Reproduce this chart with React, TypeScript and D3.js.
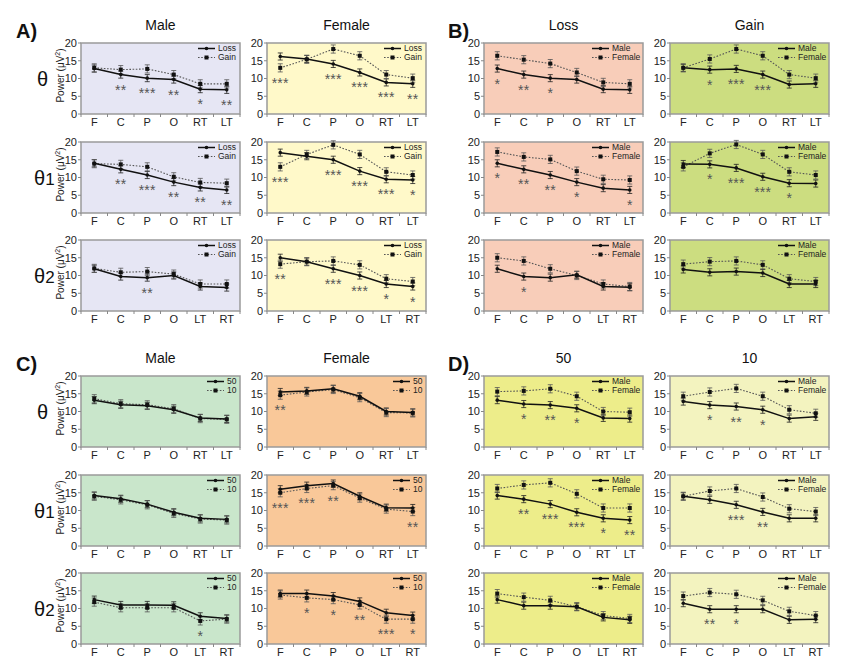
import React from "react";
import * as d3 from "d3";

const W = 847;
const H = 666;
const FONT = "Arial, 'Liberation Sans', Helvetica, sans-serif";

// categories / ticks
const CATS_A = ["F", "C", "P", "O", "RT", "LT"];
const CATS_B = ["F", "C", "P", "O", "LT", "RT"];
const Y_TICKS = [0, 5, 10, 15, 20];

// A) Loss (solid) vs Gain (dotted)
const aMaleT0 = [[12.8, 11.1, 10.1, 9.7, 7.0, 6.8], [13.0, 12.5, 12.7, 11.1, 8.5, 8.5]];
const aMaleT0Stars = ["", "**", "***", "**", "*", "**"];
const aFemT0 = [[16.2, 15.5, 14.1, 11.7, 8.9, 8.5], [13.0, 15.4, 18.3, 16.4, 11.1, 10.1]];
const aFemT0Stars = ["***", "", "***", "***", "***", "**"];
const aMaleT1 = [[14.0, 12.3, 10.7, 8.7, 7.2, 6.5], [13.9, 13.7, 13.0, 10.2, 8.6, 8.4]];
const aMaleT1Stars = ["", "**", "***", "**", "**", "**"];
const aFemT1 = [[17.0, 16.0, 15.0, 11.8, 9.5, 9.3], [13.0, 16.5, 19.2, 16.5, 11.6, 10.7]];
const aFemT1Stars = ["***", "", "***", "***", "***", "*"];
const aMaleT2 = [[11.9, 9.7, 9.4, 10.0, 6.9, 6.6], [12.0, 10.9, 11.1, 10.4, 7.6, 7.6]];
const aMaleT2Stars = ["", "", "**", "", "", ""];
const aFemT2 = [[15.0, 13.9, 11.9, 10.0, 7.6, 6.9], [13.2, 13.9, 14.1, 13.0, 9.1, 8.3]];
const aFemT2Stars = ["**", "", "***", "***", "*", "*"];

// B) Male (solid) vs Female (dotted)
const bLossT0 = [[12.8, 11.1, 10.1, 9.7, 7.0, 6.8], [16.4, 15.3, 14.2, 11.7, 8.9, 8.5]];
const bLossT0Stars = ["*", "**", "*", "", "", ""];
const bGainT0 = [[13.0, 12.5, 12.7, 11.1, 8.3, 8.5], [13.0, 15.5, 18.3, 16.4, 11.1, 10.1]];
const bGainT0Stars = ["", "*", "***", "***", "", ""];
const bLossT1 = [[14.0, 12.3, 10.7, 8.7, 7.0, 6.5], [17.2, 15.8, 15.1, 11.8, 9.5, 9.3]];
const bLossT1Stars = ["*", "**", "**", "*", "", "*"];
const bGainT1 = [[13.8, 13.7, 12.7, 10.2, 8.4, 8.3], [13.0, 16.8, 19.3, 16.5, 11.6, 10.7]];
const bGainT1Stars = ["", "*", "***", "***", "*", ""];
const bLossT2 = [[11.9, 9.7, 9.4, 10.2, 6.9, 6.7], [15.0, 14.1, 11.9, 10.0, 7.6, 6.9]];
const bLossT2Stars = ["", "*", "", "", "", ""];
const bGainT2 = [[11.7, 10.9, 11.1, 10.7, 7.6, 7.6], [13.2, 13.9, 14.1, 13.0, 9.1, 8.3]];
const bGainT2Stars = ["", "", "", "", "", ""];

// C) 50 (solid) vs 10 (dotted)
const cMaleT0 = [[13.2, 11.9, 11.6, 10.5, 8.2, 7.9], [13.6, 12.2, 11.9, 10.8, 8.0, 7.8]];
const cMaleT0Stars = ["", "", "", "", "", ""];
const cFemT0 = [[15.5, 15.8, 16.4, 14.3, 10.0, 9.7], [14.6, 15.5, 16.2, 13.9, 9.7, 9.6]];
const cFemT0Stars = ["**", "", "", "", "", ""];
const cMaleT1 = [[14.2, 13.3, 11.8, 9.5, 7.8, 7.5], [14.0, 13.0, 11.6, 9.2, 7.6, 7.3]];
const cMaleT1Stars = ["", "", "", "", "", ""];
const cFemT1 = [[16.0, 17.0, 17.6, 14.0, 10.8, 10.7], [15.0, 16.2, 17.0, 13.5, 10.4, 9.7]];
const cFemT1Stars = ["***", "***", "**", "", "", "**"];
const cMaleT2 = [[12.5, 11.0, 11.0, 10.9, 7.8, 7.2], [11.8, 10.2, 10.2, 10.2, 6.5, 7.0]];
const cMaleT2Stars = ["", "", "", "", "*", ""];
const cFemT2 = [[14.2, 14.2, 13.5, 12.0, 8.8, 8.0], [13.8, 13.0, 12.5, 11.0, 7.0, 7.0]];
const cFemT2Stars = ["", "*", "*", "**", "***", "*"];

// D) Male (solid) vs Female (dotted)
const d50T0 = [[13.2, 12.1, 11.8, 10.9, 8.2, 8.0], [15.6, 15.8, 16.4, 14.3, 10.0, 9.8]];
const d50T0Stars = ["", "*", "**", "*", "", ""];
const d10T0 = [[12.8, 11.8, 11.4, 10.5, 8.0, 8.5], [14.3, 15.5, 16.5, 14.3, 10.5, 9.5]];
const d10T0Stars = ["", "*", "**", "*", "", ""];
const d50T1 = [[14.2, 13.2, 11.8, 9.5, 7.8, 7.3], [16.2, 17.2, 17.8, 14.7, 10.7, 10.7]];
const d50T1Stars = ["", "**", "***", "***", "*", "**"];
const d10T1 = [[14.0, 13.0, 11.6, 9.6, 7.8, 7.8], [14.0, 15.5, 16.2, 13.8, 10.5, 9.7]];
const d10T1Stars = ["", "", "***", "**", "", ""];
const d50T2 = [[12.5, 10.8, 10.8, 10.5, 7.5, 6.8], [14.2, 13.2, 12.3, 10.5, 8.0, 7.2]];
const d50T2Stars = ["", "", "", "", "", ""];
const d10T2 = [[11.5, 9.8, 9.8, 9.8, 6.8, 7.0], [13.5, 14.5, 14.0, 12.3, 9.2, 8.0]];
const d10T2Stars = ["", "**", "*", "", "", ""];

const ERR = [1.0, 1.15]; // error bar half-length per series

// layout
const COL_X = [81, 267, 484, 670];
const PANEL_W = 159;
const PANEL_H = 71;
const ROW_Y = [43, 142, 240];
const HALF_DY = 333;

const BG = {
  aMale: "#E6E6F4",
  aFem: "#FFF9C9",
  bLoss: "#F8CDB9",
  bGain: "#CCDD80",
  cMale: "#C9E6CB",
  cFem: "#F9C899",
  d50: "#EDED8A",
  d10: "#F3F3BF",
};

interface PanelDef {
  col: number;
  row: number;
  half: number;
  data: number[][];
  stars: string[];
  bg: string;
  legend: string[];
  legendW: number;
}

const LEG_A = ["Loss", "Gain"];
const LEG_B = ["Male", "Female"];
const LEG_C = ["50", "10"];

const panels: PanelDef[] = [
  { col: 0, row: 0, half: 0, data: aMaleT0, stars: aMaleT0Stars, bg: BG.aMale, legend: LEG_A, legendW: 19 },
  { col: 1, row: 0, half: 0, data: aFemT0, stars: aFemT0Stars, bg: BG.aFem, legend: LEG_A, legendW: 19 },
  { col: 0, row: 1, half: 0, data: aMaleT1, stars: aMaleT1Stars, bg: BG.aMale, legend: LEG_A, legendW: 19 },
  { col: 1, row: 1, half: 0, data: aFemT1, stars: aFemT1Stars, bg: BG.aFem, legend: LEG_A, legendW: 19 },
  { col: 0, row: 2, half: 0, data: aMaleT2, stars: aMaleT2Stars, bg: BG.aMale, legend: LEG_A, legendW: 19 },
  { col: 1, row: 2, half: 0, data: aFemT2, stars: aFemT2Stars, bg: BG.aFem, legend: LEG_A, legendW: 19 },
  { col: 2, row: 0, half: 0, data: bLossT0, stars: bLossT0Stars, bg: BG.bLoss, legend: LEG_B, legendW: 28 },
  { col: 3, row: 0, half: 0, data: bGainT0, stars: bGainT0Stars, bg: BG.bGain, legend: LEG_B, legendW: 28 },
  { col: 2, row: 1, half: 0, data: bLossT1, stars: bLossT1Stars, bg: BG.bLoss, legend: LEG_B, legendW: 28 },
  { col: 3, row: 1, half: 0, data: bGainT1, stars: bGainT1Stars, bg: BG.bGain, legend: LEG_B, legendW: 28 },
  { col: 2, row: 2, half: 0, data: bLossT2, stars: bLossT2Stars, bg: BG.bLoss, legend: LEG_B, legendW: 28 },
  { col: 3, row: 2, half: 0, data: bGainT2, stars: bGainT2Stars, bg: BG.bGain, legend: LEG_B, legendW: 28 },
  { col: 0, row: 0, half: 1, data: cMaleT0, stars: cMaleT0Stars, bg: BG.cMale, legend: LEG_C, legendW: 10 },
  { col: 1, row: 0, half: 1, data: cFemT0, stars: cFemT0Stars, bg: BG.cFem, legend: LEG_C, legendW: 10 },
  { col: 0, row: 1, half: 1, data: cMaleT1, stars: cMaleT1Stars, bg: BG.cMale, legend: LEG_C, legendW: 10 },
  { col: 1, row: 1, half: 1, data: cFemT1, stars: cFemT1Stars, bg: BG.cFem, legend: LEG_C, legendW: 10 },
  { col: 0, row: 2, half: 1, data: cMaleT2, stars: cMaleT2Stars, bg: BG.cMale, legend: LEG_C, legendW: 10 },
  { col: 1, row: 2, half: 1, data: cFemT2, stars: cFemT2Stars, bg: BG.cFem, legend: LEG_C, legendW: 10 },
  { col: 2, row: 0, half: 1, data: d50T0, stars: d50T0Stars, bg: BG.d50, legend: LEG_B, legendW: 28 },
  { col: 3, row: 0, half: 1, data: d10T0, stars: d10T0Stars, bg: BG.d10, legend: LEG_B, legendW: 28 },
  { col: 2, row: 1, half: 1, data: d50T1, stars: d50T1Stars, bg: BG.d50, legend: LEG_B, legendW: 28 },
  { col: 3, row: 1, half: 1, data: d10T1, stars: d10T1Stars, bg: BG.d10, legend: LEG_B, legendW: 28 },
  { col: 2, row: 2, half: 1, data: d50T2, stars: d50T2Stars, bg: BG.d50, legend: LEG_B, legendW: 28 },
  { col: 3, row: 2, half: 1, data: d10T2, stars: d10T2Stars, bg: BG.d10, legend: LEG_B, legendW: 28 },
];

const COL_TITLES = [
  ["Male", "Female", "Loss", "Gain"],
  ["Male", "Female", "50", "10"],
];
const LETTERS = [["A)", "B)"], ["C)", "D)"]];
const GREEK_SUB = ["", "1", "2"];

function Marker({ x, y, kind }: { x: number; y: number; kind: number }) {
  if (kind === 0) return <circle cx={x} cy={y} r={1.8} fill="#111" />;
  return <rect x={x - 2} y={y - 2} width={4} height={4} fill="#111" />;
}

function Panel({ p }: { p: PanelDef }) {
  const x0 = COL_X[p.col];
  const y0 = ROW_Y[p.row] + p.half * HALF_DY;
  const cats = p.row === 2 ? CATS_B : CATS_A;
  const xs = d3.scaleBand<string>().domain(cats).range([x0, x0 + PANEL_W]);
  const ys = d3.scaleLinear().domain([0, 20]).range([y0 + PANEL_H, y0]);
  const cx = (i: number) => (xs(cats[i]) as number) + xs.bandwidth() / 2;
  const line = d3
    .line<number>()
    .x((_, i) => cx(i))
    .y((v) => ys(v));

  const right = x0 + PANEL_W;
  const textX = right - 3 - p.legendW;
  const bounds = cats.map((c) => xs(c) as number).concat([right]);

  return (
    <g>
      <rect x={x0} y={y0} width={PANEL_W} height={PANEL_H} fill={p.bg} stroke="#9a9a9a" strokeWidth={1.5} />
      {Y_TICKS.map((t) => (
        <g key={t}>
          <line x1={x0 - 3} x2={x0} y1={ys(t)} y2={ys(t)} stroke="#888" strokeWidth={1} />
          <text x={x0 - 4} y={ys(t)} dy="0.35em" textAnchor="end" fontSize={11} fill="#222">
            {t}
          </text>
        </g>
      ))}
      {bounds.map((b, i) => (
        <line key={i} x1={b} x2={b} y1={y0 + PANEL_H} y2={y0 + PANEL_H + 3} stroke="#888" strokeWidth={1} />
      ))}
      {cats.map((c, i) => (
        <text key={c} x={cx(i)} y={y0 + PANEL_H + 12} textAnchor="middle" fontSize={11} fill="#222">
          {c}
        </text>
      ))}
      {p.data.map((s, k) =>
        s.map((v, i) => {
          const e = ERR[k];
          const xx = cx(i);
          return (
            <g key={`${k}-${i}`} stroke={k === 0 ? "#222" : "#555"} strokeWidth={0.8}>
              <line x1={xx} x2={xx} y1={ys(v - e)} y2={ys(v + e)} />
              <line x1={xx - 2.5} x2={xx + 2.5} y1={ys(v - e)} y2={ys(v - e)} />
              <line x1={xx - 2.5} x2={xx + 2.5} y1={ys(v + e)} y2={ys(v + e)} />
            </g>
          );
        })
      )}
      <path d={line(p.data[1]) || ""} fill="none" stroke="#555" strokeWidth={1.1} strokeDasharray="1.6,1.6" />
      <path d={line(p.data[0]) || ""} fill="none" stroke="#111" strokeWidth={1.5} />
      {p.data.map((s, k) => s.map((v, i) => <Marker key={`m${k}-${i}`} x={cx(i)} y={ys(v)} kind={k} />))}
      {p.stars.map((st, i) =>
        st ? (
          <text
            key={`s${i}`}
            x={cx(i)}
            y={ys(Math.min(p.data[0][i], p.data[1][i])) + 20}
            textAnchor="middle"
            fontSize={14}
            letterSpacing={0.3}
            fill="#555"
          >
            {st}
          </text>
        ) : null
      )}
      {p.legend.map((lab, k) => {
        const ly = y0 + 5.5 + k * 9;
        return (
          <g key={lab}>
            <line
              x1={textX - 20}
              x2={textX - 3}
              y1={ly}
              y2={ly}
              stroke={k === 0 ? "#111" : "#555"}
              strokeWidth={k === 0 ? 1.5 : 1.1}
              strokeDasharray={k === 0 ? undefined : "1.6,1.6"}
            />
            <Marker x={textX - 11.5} y={ly} kind={k} />
            <text x={textX} y={ly} dy="0.35em" fontSize={8.5} fill="#222">
              {lab}
            </text>
          </g>
        );
      })}
    </g>
  );
}

export default function App() {
  return (
    <svg
      width={W}
      height={H}
      viewBox={`0 0 ${W} ${H}`}
      style={{ position: "absolute", left: 0, top: 0, fontFamily: FONT, background: "#fff" }}
    >
      {[0, 1].map((half) => (
        <g key={half}>
          {COL_TITLES[half].map((t, c) => (
            <text
              key={c}
              x={COL_X[c] + PANEL_W / 2}
              y={ROW_Y[0] + half * HALF_DY - 13}
              textAnchor="middle"
              fontSize={14}
              fill="#111"
            >
              {t}
            </text>
          ))}
          <text x={16} y={38 + half * HALF_DY} fontSize={20} fontWeight="bold" fill="#111">
            {LETTERS[half][0]}
          </text>
          <text x={448} y={38 + half * HALF_DY} fontSize={20} fontWeight="bold" fill="#111">
            {LETTERS[half][1]}
          </text>
          {ROW_Y.map((ry, r) => {
            const cy = ry + half * HALF_DY + PANEL_H / 2;
            return (
              <g key={r}>
                <text x={r === 0 ? 37 : 34} y={cy + 7} fontSize={20} fill="#111">
                  θ
                  <tspan fontSize={17}>{GREEK_SUB[r]}</tspan>
                </text>
                <text
                  transform={`translate(64,${cy - 3}) rotate(-90)`}
                  textAnchor="middle"
                  fontSize={10}
                  fill="#222"
                >
                  Power (μV
                  <tspan fontSize={7} dy={-4}>
                    2
                  </tspan>
                  <tspan dy={4}>)</tspan>
                </text>
              </g>
            );
          })}
        </g>
      ))}
      {panels.map((p, i) => (
        <Panel key={i} p={p} />
      ))}
    </svg>
  );
}
